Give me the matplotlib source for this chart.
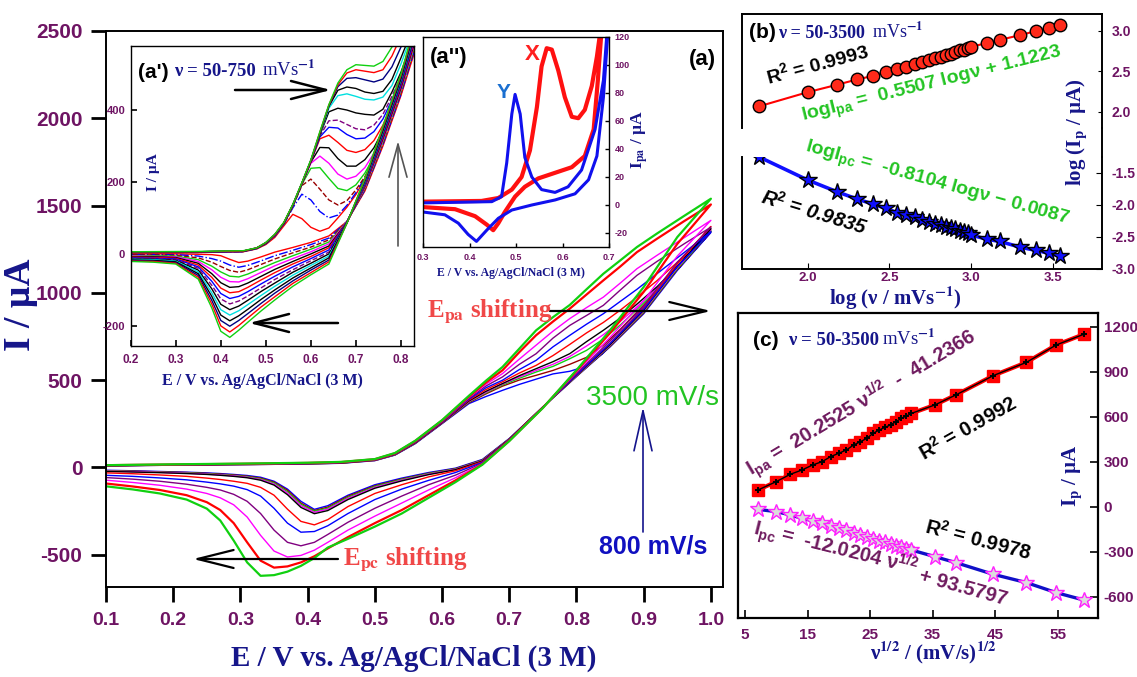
# -*- coding: UTF-8 -*-
import numpy as np
import matplotlib
matplotlib.use('Agg')
import matplotlib.pyplot as plt
from matplotlib import rcParams
from matplotlib.lines import Line2D
from matplotlib.patches import FancyArrowPatch

params = {
    'font.family': ['Liberation Sans', 'DejaVu Sans'],
    'font.weight': 'bold',
    'mathtext.fontset': 'custom',
    'mathtext.rm': 'Liberation Sans:bold',
    'mathtext.it': 'Liberation Sans:bold:italic',
    'mathtext.bf': 'Liberation Sans:bold',
    'mathtext.default': 'rm',
    'axes.unicode_minus': False,
    'axes.linewidth': 1.4,
}
rcParams.update(params)

SERIF = ['Liberation Serif', 'DejaVu Serif']
PURPLE = '#6e1463'
NAVY = '#16168a'
GREEN = '#22c422'
EQ = '#6e1a5e'

# ---------------- main CVs, 800-3500 mV/s ----------------
main_rates = [800, 850, 900, 950, 1000, 1250, 1500, 2000, 2500, 3000, 3500]
main_colors = ['#0000ff', '#990000', '#10d010', '#ff00ff', 'black', '#ff0000',
               '#0000ff', '#800080', '#ff00ff', '#ff0000', '#10d010']
main_fwd_E = [0.10, 0.20, 0.30, 0.40, 0.45, 0.50, 0.53, 0.56, 0.60, 0.64, 0.665, 0.69,
              0.715, 0.74, 0.765, 0.79, 0.815, 0.84, 0.865, 0.89, 0.92, 0.96, 1.00]
main_fwd_I = [
    [8, 12, 15, 19, 23, 38, 70, 135, 250, 365, 405, 441, 475, 505, 535, 550, 580, 655, 765, 875, 1005, 1175, 1346],
    [8, 12, 15, 19, 24, 39, 71, 137, 252, 370, 420, 465, 500, 527, 555, 590, 630, 700, 790, 890, 1008, 1178, 1352],
    [9, 13, 16, 20, 24, 40, 72, 138, 254, 374, 426, 472, 510, 546, 578, 622, 670, 735, 815, 905, 1015, 1182, 1356],
    [9, 13, 16, 20, 25, 40, 73, 139, 255, 377, 430, 477, 518, 555, 590, 635, 695, 760, 835, 920, 1025, 1186, 1362],
    [9, 13, 17, 21, 25, 41, 74, 140, 256, 380, 435, 480, 525, 565, 605, 651, 720, 785, 855, 935, 1035, 1190, 1368],
    [10, 14, 18, 22, 26, 42, 75, 142, 258, 385, 445, 490, 540, 584, 640, 704, 770, 830, 900, 975, 1070, 1210, 1380],
    [10, 14, 18, 22, 27, 43, 76, 144, 260, 390, 455, 499, 560, 613, 690, 756, 820, 880, 950, 1020, 1110, 1230, 1350],
    [11, 15, 19, 23, 28, 44, 78, 146, 262, 395, 465, 518, 590, 651, 740, 813, 870, 928, 1015, 1100, 1180, 1280, 1376],
    [11, 15, 19, 24, 29, 45, 79, 148, 265, 400, 475, 537, 620, 700, 780, 852, 915, 975, 1055, 1138, 1215, 1315, 1415],
    [12, 16, 20, 25, 30, 46, 80, 150, 268, 405, 485, 556, 660, 757, 835, 909, 990, 1071, 1150, 1233, 1310, 1410, 1506],
    [12, 17, 21, 26, 31, 47, 82, 152, 270, 410, 495, 575, 680, 785, 860, 930, 1020, 1109, 1185, 1262, 1340, 1440, 1539],
]
main_rev_E = [1.00, 0.95, 0.90, 0.85, 0.80, 0.75, 0.70, 0.66, 0.62, 0.58, 0.54, 0.50, 0.46, 0.43,
              0.41, 0.39, 0.37, 0.35, 0.33, 0.31, 0.29, 0.27, 0.25, 0.22, 0.18, 0.14, 0.10]
main_rev_I = [
    [1346, 1128, 880, 690, 520, 345, 165, 45, -5, -30, -62, -100, -160, -220, -241, -195, -125, -80, -57, -47, -41, -36, -32, -28, -24, -20, -17],
    [1352, 1135, 885, 693, 521, 345, 163, 42, -8, -34, -67, -106, -166, -228, -248, -205, -132, -85, -62, -51, -44, -39, -35, -30, -26, -22, -19],
    [1356, 1140, 890, 697, 523, 346, 162, 40, -10, -36, -70, -110, -172, -234, -252, -212, -140, -90, -66, -54, -47, -42, -37, -32, -28, -24, -20],
    [1362, 1146, 895, 700, 525, 346, 161, 38, -12, -39, -74, -115, -178, -240, -258, -220, -148, -96, -70, -57, -49, -44, -39, -34, -29, -25, -22],
    [1368, 1152, 900, 703, 527, 346, 160, 36, -14, -42, -78, -120, -185, -248, -266, -230, -157, -102, -74, -60, -52, -46, -41, -36, -31, -27, -24],
    [1380, 1165, 912, 712, 531, 345, 158, 32, -20, -55, -100, -150, -225, -300, -330, -310, -240, -160, -115, -92, -80, -70, -62, -52, -44, -37, -32],
    [1350, 1150, 905, 710, 530, 344, 157, 28, -30, -75, -125, -185, -265, -335, -368, -372, -320, -235, -165, -128, -108, -95, -85, -72, -61, -52, -46],
    [1376, 1175, 925, 725, 537, 343, 155, 24, -45, -100, -165, -235, -315, -385, -430, -450, -430, -360, -265, -195, -155, -130, -115, -97, -80, -68, -59],
    [1415, 1210, 955, 745, 545, 342, 154, 20, -60, -130, -205, -280, -360, -430, -475, -505, -514, -480, -390, -285, -215, -175, -150, -125, -103, -87, -74],
    [1506, 1280, 1005, 770, 552, 341, 152, 17, -75, -160, -245, -320, -400, -465, -510, -545, -568, -575, -535, -430, -320, -245, -200, -160, -130, -110, -93],
    [1539, 1319, 1033, 785, 557, 340, 150, 15, -85, -175, -265, -340, -410, -460, -520, -565, -598, -618, -622, -545, -420, -305, -237, -185, -150, -127, -109],
]

# ---------------- inset (a'), 50-750 mV/s ----------------
ins_colors = ['#ff0000', '#0000ff', '#990000', '#10d010', '#ff00ff', 'black', '#ff0000',
              '#0000ff', '#800080', 'black', '#00e0e0', 'black', '#000080', '#ff0000', '#10d010']
ins_styles = ['-', '-.', '--', '-', '-', '-', '-', '-', '--', '-', '-', '-', '-', '-', '-']
ins_fwd_E = [0.20, 0.35, 0.45, 0.48, 0.50, 0.52, 0.54, 0.56, 0.58, 0.60, 0.62, 0.64, 0.66,
             0.68, 0.70, 0.72, 0.74, 0.76, 0.78, 0.80, 0.84]
ins_fwd_I = [
    [4, 4, 6, 14, 26, 46, 78, 110, 98, 74, 63, 72, 100, 130, 165, 210, 260, 320, 390, 460, 620],
    [4, 4, 6, 15, 28, 49, 82, 128, 166, 150, 118, 100, 108, 135, 170, 212, 262, 322, 392, 462, 622],
    [4, 5, 7, 15, 29, 50, 83, 132, 190, 208, 180, 150, 136, 148, 178, 215, 264, 324, 394, 464, 624],
    [4, 5, 7, 15, 29, 51, 84, 133, 193, 238, 240, 210, 182, 176, 192, 225, 270, 328, 398, 468, 626],
    [4, 5, 7, 15, 30, 51, 84, 134, 194, 252, 272, 252, 222, 208, 216, 240, 280, 334, 402, 472, 628],
    [4, 5, 7, 16, 30, 52, 85, 134, 195, 255, 296, 295, 265, 244, 244, 262, 295, 344, 408, 476, 630],
    [4, 5, 7, 16, 30, 52, 85, 135, 195, 256, 320, 330, 310, 288, 282, 290, 315, 358, 418, 482, 632],
    [5, 5, 7, 16, 30, 52, 85, 135, 195, 257, 325, 352, 350, 332, 320, 322, 340, 375, 428, 490, 636],
    [5, 5, 7, 16, 30, 52, 85, 135, 195, 258, 328, 370, 372, 360, 348, 345, 358, 388, 438, 496, 640],
    [5, 6, 8, 16, 30, 53, 85, 135, 195, 258, 330, 395, 405, 400, 392, 388, 386, 402, 450, 505, 645],
    [5, 6, 8, 16, 31, 53, 86, 136, 196, 259, 332, 405, 440, 445, 438, 430, 428, 436, 468, 528, 665],
    [5, 6, 8, 16, 31, 53, 86, 136, 196, 259, 334, 410, 455, 464, 460, 450, 446, 452, 485, 545, 670],
    [5, 6, 8, 17, 31, 54, 86, 137, 197, 260, 336, 412, 465, 488, 490, 484, 478, 486, 520, 575, 680],
    [6, 6, 8, 17, 31, 54, 87, 137, 197, 260, 338, 414, 470, 503, 512, 508, 504, 512, 550, 605, 690],
    [6, 7, 9, 17, 32, 55, 88, 138, 198, 262, 340, 415, 475, 512, 526, 524, 522, 535, 575, 630, 700],
]
ins_rev_E = [0.84, 0.80, 0.76, 0.72, 0.68, 0.64, 0.60, 0.56, 0.52, 0.49, 0.46, 0.44, 0.42,
             0.40, 0.38, 0.35, 0.30, 0.25, 0.20]
ins_rev_I = [
    [600, 440, 300, 175, 90, 50, 32, 18, 5, -8, -20, -24, -15, -5, -2, -1, 0, 0, 0],
    [606, 444, 304, 178, 90, 44, 26, 10, -5, -19, -32, -37, -31, -20, -13, -6, -2, -2, -2],
    [611, 449, 308, 180, 89, 39, 19, 3, -14, -29, -44, -51, -46, -35, -23, -11, -4, -3, -3],
    [617, 453, 312, 183, 89, 33, 13, -5, -24, -40, -56, -64, -62, -50, -34, -16, -6, -5, -5],
    [623, 457, 316, 185, 89, 28, 6, -13, -33, -51, -69, -78, -77, -65, -44, -21, -8, -7, -6],
    [629, 461, 320, 188, 88, 22, 0, -21, -43, -62, -81, -91, -93, -80, -55, -26, -10, -8, -8],
    [634, 466, 324, 190, 88, 17, -7, -28, -52, -72, -93, -105, -108, -95, -65, -31, -12, -10, -9],
    [640, 470, 328, 193, 88, 11, -13, -36, -62, -83, -105, -118, -124, -110, -76, -36, -14, -12, -11],
    [646, 474, 331, 195, 87, 5, -19, -44, -71, -94, -117, -131, -139, -125, -87, -40, -16, -13, -12],
    [651, 479, 335, 198, 87, 0, -26, -51, -81, -104, -129, -145, -155, -140, -97, -45, -18, -15, -14],
    [657, 483, 339, 200, 86, -6, -32, -59, -90, -115, -141, -158, -170, -155, -108, -50, -20, -16, -15],
    [663, 487, 343, 203, 86, -11, -39, -67, -100, -126, -154, -172, -186, -170, -118, -55, -22, -18, -17],
    [669, 491, 347, 205, 86, -17, -45, -75, -109, -137, -166, -185, -201, -185, -129, -60, -24, -20, -18],
    [674, 496, 351, 208, 85, -22, -52, -82, -119, -147, -178, -199, -217, -200, -139, -65, -26, -21, -20],
    [680, 500, 355, 210, 85, -28, -58, -90, -128, -158, -190, -212, -232, -215, -150, -70, -28, -23, -21],
]

# ---------------- inset (a''), X and Y ----------------
x_E = [0.30, 0.426, 0.462, 0.491, 0.512, 0.53, 0.545, 0.555, 0.566, 0.577, 0.591, 0.605, 0.62,
       0.634, 0.648, 0.663, 0.674, 0.681, 0.69, 0.684, 0.676, 0.667, 0.648, 0.62, 0.584, 0.548,
       0.519, 0.498, 0.476, 0.462, 0.451, 0.437, 0.412, 0.369, 0.30]
x_I = [2.4, 2.9, 5, 11, 20, 39, 70, 99, 112, 111, 96, 77, 63, 62, 68, 85, 106, 123, 140, 125,
       89, 54, 35, 27, 23, 19, 13, 6, -5, -13, -18, -14, -8, -3, -1.5]
y_E = [0.30, 0.448, 0.469, 0.48, 0.491, 0.498, 0.509, 0.519, 0.534, 0.555, 0.584, 0.612, 0.641,
       0.67, 0.688, 0.695, 0.70, 0.688, 0.674, 0.656, 0.627, 0.584, 0.534, 0.491, 0.462, 0.437,
       0.415, 0.397, 0.376, 0.347, 0.30]
y_I = [1.5, 2.4, 6, 30, 65, 79, 65, 34, 20, 11, 9, 13, 25, 54, 89, 120, 135, 77, 35, 18, 8,
       3.6, 0, -3.6, -9.5, -18, -26, -21, -13, -7, -5]

# ---------------- (b) and (c) ----------------
scan_rate = [50, 100, 150, 200, 250, 300, 350, 400, 450, 500, 550, 600, 650, 700, 750, 800,
             850, 900, 950, 1000, 1250, 1500, 2000, 2500, 3000, 3500]
log_ipa = [2.066, 2.243, 2.333, 2.40, 2.444, 2.498, 2.53, 2.56, 2.59, 2.617, 2.64, 2.66, 2.68,
           2.70, 2.72, 2.74, 2.76, 2.77, 2.79, 2.806, 2.85, 2.89, 2.95, 3.0, 3.04, 3.07]
log_ipc = [-1.245, -1.61, -1.79, -1.906, -1.984, -2.05, -2.12, -2.156, -2.19, -2.23, -2.26,
           -2.29, -2.31, -2.34, -2.36, -2.38, -2.40, -2.42, -2.44, -2.47, -2.535, -2.57, -2.66,
           -2.71, -2.755, -2.80]
ipa = [113, 169, 218, 247, 280, 302, 336, 358, 380, 413, 435, 458, 491, 513, 531, 547, 569,
       591, 607, 624, 680, 747, 876, 964, 1080, 1151]
ipc = [-16, -31, -53, -76, -91, -109, -127, -142, -153, -171, -187, -198, -211, -224, -236,
       -247, -258, -269, -278, -287, -331, -371, -449, -504, -571, -620]

W, H = 1137, 677
fig = plt.figure(figsize=(W / 100, H / 100), dpi=100)


def rect(x0, y0, x1, y1):
    return [x0 / W, 1 - y1 / H, (x1 - x0) / W, (y1 - y0) / H]


def ftext(x, y, s, **kw):
    return fig.text(x / W, 1 - y / H, s, **kw)


def farrow(x0, y0, x1, y1, color='black', lw=1.5, hl=36, hw=9):
    # head length / half width given in pixels
    fig.add_artist(FancyArrowPatch((x0 / W, 1 - y0 / H), (x1 / W, 1 - y1 / H),
                                   transform=fig.transFigure, shrinkA=0, shrinkB=0,
                                   arrowstyle='->,head_length=%g,head_width=%g' % (hl * 0.72, hw * 0.72),
                                   mutation_scale=1, color=color, lw=lw))


# ---- main axes
ax = fig.add_axes(rect(106, 31, 723, 587))
for k in range(len(main_rates)):
    E = main_fwd_E + main_rev_E
    I = main_fwd_I[k] + main_rev_I[k]
    ax.plot(E, I, color=main_colors[k], lw=1.6 if k >= 9 else 1.0)
ax.set_xlim(0.1, 1.018)
ax.set_ylim(-686, 2500)
xt = [0.1, 0.2, 0.3, 0.4, 0.5, 0.6, 0.7, 0.8, 0.9, 1.0]
ax.set_xticks(xt)
ax.set_xticklabels(['%.1f' % v for v in xt])
yt = [-500, 0, 500, 1000, 1500, 2000, 2500]
ax.set_yticks(yt)
ax.set_yticklabels([str(v) for v in yt])
ax.tick_params(direction='out', length=11, width=2, colors='black', labelcolor=PURPLE)
ax.tick_params(axis='x', labelsize=14, pad=7)
ax.tick_params(axis='y', labelsize=15, pad=6)
ftext(414, 658, 'E / V vs. Ag/AgCl/NaCl (3 M)', ha='center', va='center',
      family=SERIF, size=21, weight='bold', color=NAVY)
ftext(21, 305, 'I / µA', ha='center', va='center', rotation=90,
      family=SERIF, size=27, weight='bold', color=NAVY)

# ---- inset (a')
a1 = fig.add_axes(rect(130.7, 46, 414, 346))
a1.set_facecolor('white')
for k in range(len(ins_colors)):
    a1.plot(ins_fwd_E + ins_rev_E, ins_fwd_I[k] + ins_rev_I[k], color=ins_colors[k],
            ls=ins_styles[k], lw=1.0)
a1.set_xlim(0.2, 0.829)
a1.set_ylim(-256, 578)
at = [0.2, 0.3, 0.4, 0.5, 0.6, 0.7, 0.8]
a1.set_xticks(at)
a1.set_xticklabels(['%.1f' % v for v in at])
a1.set_yticks([-200, 0, 200, 400])
a1.set_yticklabels(['-200', '0', '200', '400'])
a1.tick_params(direction='in', length=4, width=1.2, labelcolor=PURPLE)
a1.tick_params(axis='x', labelsize=8.5, pad=6)
a1.tick_params(axis='y', labelsize=8, pad=4)
for s in a1.spines.values():
    s.set_linewidth(1.0)
ftext(262, 381, 'E / V vs. Ag/AgCl/NaCl (3 M)', ha='center', va='center',
      family=SERIF, size=11.5, weight='bold', color=NAVY)
ftext(153, 172, 'I / µA', ha='center', va='center', rotation=90,
      family=SERIF, size=11, weight='bold', color=NAVY)
ftext(138, 78, "(a')", ha='left', va='baseline', size=15, weight='bold')
ftext(174, 76, 'ν = 50-750', ha='left', va='baseline', family=SERIF, size=13.5,
      weight='bold', color=NAVY)
ftext(262, 76, r'mVs$^{\mathrm{-1}}$', ha='left', va='baseline', family=SERIF, size=13.5,
      weight='normal', color=NAVY, math_fontfamily='stix')
farrow(235, 90, 331, 90, lw=1.8, hl=35, hw=9)
farrow(338, 323, 249, 323, lw=1.8, hl=35, hw=9)
farrow(398, 246, 398, 141, color='#555555', lw=1.2, hl=33, hw=9)

# ---- inset (a'')
a2 = fig.add_axes(rect(423, 37, 609, 247))
a2.set_facecolor('white')
a2.plot(x_E, x_I, color='#ff1010', lw=3.0)
a2.plot(y_E, y_I, color='#1010ee', lw=2.2)
a2.set_xlim(0.3, 0.7)
a2.set_ylim(-30, 120)
bt = [0.3, 0.4, 0.5, 0.6, 0.7]
a2.set_xticks(bt)
a2.set_xticklabels(['%.1f' % v for v in bt])
a2.set_yticks([-20, 0, 20, 40, 60, 80, 100, 120])
a2.set_yticklabels(['-20', '0', '20', '40', '60', '80', '100', '120'])
a2.yaxis.tick_right()
a2.tick_params(direction='in', length=3, width=1.0, labelcolor=PURPLE, labelsize=6.5, pad=4)
for s in a2.spines.values():
    s.set_linewidth(1.0)
ftext(511, 273, 'E / V vs. Ag/AgCl/NaCl (3 M)', ha='center', va='center',
      family=SERIF, size=8.5, weight='bold', color=NAVY)
ftext(640, 140, r'I$_{\mathbf{pa}}$ / µA', ha='center', va='center', rotation=90,
      family=SERIF, size=12.5, weight='bold', color=NAVY, math_fontfamily='stix')
ftext(430, 57, "(a'')", ha='left', va='center', size=16, weight='bold')
ftext(532, 55, 'X', ha='center', va='center', size=16, weight='bold', color='#ff2020')
ftext(504, 92, 'Y', ha='center', va='center', size=15, weight='bold', color='#1a6fd0')

# ---- main annotations
ftext(702, 60, '(a)', ha='center', va='center', size=16, weight='bold')
ftext(427, 317, r'E$_{\mathbf{pa}}$ shifting', ha='left', va='baseline', family=SERIF,
      size=18, weight='bold', color='#f04848', math_fontfamily='stix')
farrow(550, 311, 711, 311, lw=1.6, hl=37, hw=9)
ftext(343, 565, r'E$_{\mathbf{pc}}$ shifting', ha='left', va='baseline', family=SERIF,
      size=18, weight='bold', color='#f04848', math_fontfamily='stix')
farrow(338, 559, 193, 559, lw=1.6, hl=36, hw=9)
ftext(652, 398, '3500 mV/s', ha='center', va='center', size=20, weight='normal', color=GREEN)
ftext(653, 546, '800 mV/s', ha='center', va='center', size=18, weight='bold', color='#1010c0')
farrow(643, 532, 643, 407, color='#14148c', lw=1.2, hl=40, hw=9)

# ---- panel (b)
logv = np.log10(scan_rate)
b1 = fig.add_axes(rect(742, 14, 1102, 128))
b1.plot(logv, log_ipa, color='red', lw=1.5, marker='o', ms=9, mfc='#ff2a1a', mec='black', mew=1.0)
b1.set_xlim(1.598, 3.80)
b1.set_ylim(1.80, 3.21)
b1.set_xticks([])
b1.spines['bottom'].set_visible(False)
b1.yaxis.tick_right()
b1.set_yticks([2.0, 2.5, 3.0])
b1.set_yticklabels(['2.0', '2.5', '3.0'])
b1.tick_params(direction='in', length=3, labelsize=10, labelcolor=PURPLE, pad=7)

b2 = fig.add_axes(rect(742, 157, 1102, 269))
b2.plot(logv, log_ipc, color='#1010ff', lw=2.6, marker='*', ms=13, mfc='#1010ff', mec='black', mew=1.0)
b2.set_xlim(1.598, 3.80)
b2.set_ylim(-3.0, -1.25)
b2.spines['top'].set_visible(False)
b2.yaxis.tick_right()
b2.set_yticks([-3.0, -2.5, -2.0, -1.5])
b2.set_yticklabels(['-3.0', '-2.5', '-2.0', '-1.5'])
b2.set_xticks([2.0, 2.5, 3.0, 3.5])
b2.set_xticklabels(['2.0', '2.5', '3.0', '3.5'])
b2.tick_params(direction='in', length=4, labelsize=10, labelcolor=PURPLE, pad=7)
b2.tick_params(axis='x', labelsize=9.5, pad=2)
fig.add_artist(Line2D([1102 / W, 1102 / W], [1 - 128 / H, 1 - 157 / H],
                      transform=fig.transFigure, color='black', lw=1.4))

ftext(749, 33, '(b)', ha='left', va='center', size=15, weight='bold')
ftext(778, 38, 'ν = 50-3500', ha='left', va='baseline', family=SERIF, size=13,
      weight='bold', color=NAVY)
ftext(872, 38, r'mVs$^{\mathrm{-1}}$', ha='left', va='baseline', family=SERIF, size=13,
      weight='normal', color=NAVY, math_fontfamily='stix')
ftext(817, 64, r'R$^2$ = 0.9993', ha='center', va='center', rotation=15, size=14)
ftext(932, 85, r'logI$_{pa}$ =  0.5507 logν + 1.1223', ha='center', va='center',
      rotation=14, size=14, color=GREEN)
ftext(937, 184, r'logI$_{pc}$ =  -0.8104 logν − 0.0087', ha='center', va='center',
      rotation=-15.5, size=14, color=GREEN)
ftext(814, 212, r'R$^{\mathit{2}}$ = 0.9835', ha='center', va='center', rotation=-17,
      size=14.5, style='italic')
ftext(895, 298, r'log (ν / mVs$^{\mathbf{-1}}$)', ha='center', va='center', family=SERIF,
      size=15, weight='bold', color=NAVY, math_fontfamily='stix')
ftext(1077, 132, r'log (I$_{\mathbf{p}}$ / µA)', ha='center', va='center', rotation=90,
      family=SERIF, size=15, weight='bold', color=NAVY, math_fontfamily='stix')

# ---- panel (c)
sqv = np.sqrt(scan_rate)
c1 = fig.add_axes(rect(738, 313, 1098, 618))
c1.plot(sqv, ipa, color='red', lw=3, marker='s', ms=8.5, mfc='red', mec='red')
c1.plot(sqv, ipa, color='black', lw=1.0, marker='+', ms=4, mew=1.4)
c1.plot(sqv, ipc, color='#1010c8', lw=2.4)
c1.plot(sqv, ipc, ls='none', marker='*', ms=12, mfc='#dcdcdc', mec='#ff20ff', mew=1.0)
c1.set_xlim(3.88, 61.45)
c1.set_ylim(-740, 1293)
ct = [5, 15, 25, 35, 45, 55]
c1.set_xticks(ct)
c1.set_xticklabels([str(v) for v in ct])
cy = [-600, -300, 0, 300, 600, 900, 1200]
c1.yaxis.tick_right()
c1.set_yticks(cy)
c1.set_yticklabels([str(v) for v in cy])
c1.tick_params(direction='in', length=6, width=1.2, labelsize=11, labelcolor=PURPLE, pad=4)
c1.tick_params(axis='x', pad=7)
for s in c1.spines.values():
    s.set_linewidth(1.6)

ftext(753, 340, '(c)', ha='left', va='center', size=15, weight='bold')
ftext(788, 345, 'ν = 50-3500', ha='left', va='baseline', family=SERIF, size=13.5,
      weight='bold', color=NAVY)
ftext(882, 345, r'mVs$^{\mathrm{-1}}$', ha='left', va='baseline', family=SERIF, size=13.5,
      weight='normal', color=NAVY, math_fontfamily='stix')
ftext(862, 403, r'I$_{pa}$ =  20.2525 ν$^{1/2}$  -  41.2366', ha='center', va='center',
      rotation=31, size=14.5, color=EQ)
ftext(968, 428, r'R$^2$ = 0.9992', ha='center', va='center', rotation=29.5, size=14.5)
ftext(978, 540, r'R$^2$ = 0.9978', ha='center', va='center', rotation=-14.5, size=14.5)
ftext(835, 549, r'I$_{pc}$ =  -12.0204 ν$^{1/2}$', ha='center', va='center',
      rotation=-14, size=14.5, color=EQ)
ftext(963, 588, '+ 93.5797', ha='center', va='center', rotation=-15.5, size=14.5, color=EQ)
ftext(933, 653, r'ν$^{\mathbf{1/2}}$ / (mV/s)$^{\mathbf{1/2}}$', ha='center', va='center',
      family=SERIF, size=15, weight='bold', color=NAVY, math_fontfamily='stix')
ftext(1073, 476, r'I$_{\mathbf{p}}$ / µA', ha='center', va='center', rotation=90,
      family=SERIF, size=15, weight='bold', color=NAVY, math_fontfamily='stix')

fig.savefig('out.png', dpi=100)
